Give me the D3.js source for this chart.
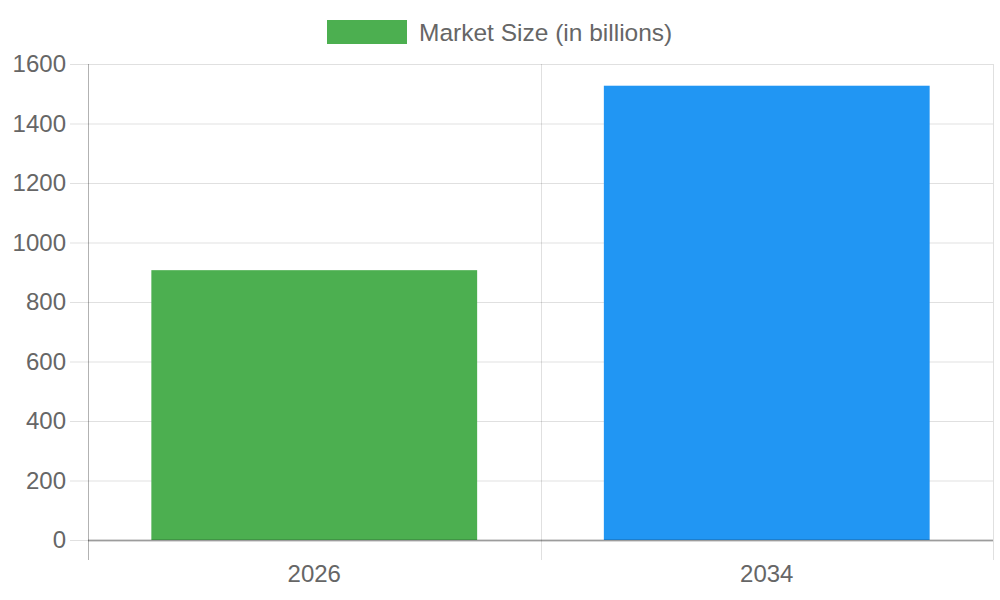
<!DOCTYPE html>
<html>
<head>
<meta charset="utf-8">
<script src="https://cdn.jsdelivr.net/npm/d3@7"></script>
<style>
  body { margin: 0; background: #fff; }
  text { font-family: "Liberation Sans", Arial, sans-serif; fill: #666; }
</style>
</head>
<body>
<div id="chart"></div>
<script>
const years = ["2026", "2034"]
const marketSize = [907, 1527]
const barColors = ["#4caf50", "#2196f3"]
const yTicks = [0, 200, 400, 600, 800, 1000, 1200, 1400, 1600]
const seriesLabel = "Market Size (in billions)"

function draw() {
  const dimensions = {
    width: 1000,
    height: 600,
    margin: { top: 64, left: 88, bottom: 60, right: 7 },
  }
  dimensions.ctrWidth = dimensions.width - dimensions.margin.left - dimensions.margin.right
  dimensions.ctrHeight = dimensions.height - dimensions.margin.top - dimensions.margin.bottom

  const xScale = d3.scaleBand()
    .domain(years)
    .range([0, dimensions.ctrWidth])

  const yScale = d3.scaleLinear()
    .domain([0, 1600])
    .range([dimensions.ctrHeight, 0])

  const svg = d3.select("#chart")
    .append("svg")
    .attr("width", dimensions.width)
    .attr("height", dimensions.height)

  const ctr = svg.append("g")
    .attr("transform", `translate(${dimensions.margin.left}, ${dimensions.margin.top})`)

  // horizontal grid + tick marks
  ctr.append("g")
    .selectAll("line")
    .data(yTicks)
    .join("line")
    .attr("x1", -18)
    .attr("x2", dimensions.ctrWidth)
    .attr("y1", d => yScale(d) + 0.5)
    .attr("y2", d => yScale(d) + 0.5)
    .attr("stroke", "rgba(0,0,0,0.12)")

  // vertical grid lines at category boundaries
  const xEdges = [0, ...years.slice(1).map(d => xScale(d)), dimensions.ctrWidth]
  ctr.append("g")
    .selectAll("line")
    .data(xEdges)
    .join("line")
    .attr("x1", d => Math.round(d) + 0.5)
    .attr("x2", d => Math.round(d) + 0.5)
    .attr("y1", 0)
    .attr("y2", dimensions.ctrHeight + 20)
    .attr("stroke", (d, i) => i === 0 ? "rgba(0,0,0,0.3)" : "rgba(0,0,0,0.12)")

  // y tick labels
  ctr.append("g")
    .selectAll("text")
    .data(yTicks)
    .join("text")
    .attr("x", -22)
    .attr("y", d => yScale(d))
    .attr("dy", "0.35em")
    .attr("text-anchor", "end")
    .style("font-size", "24px")
    .text(d => d)

  // bars
  const barWidth = xScale.bandwidth() * 0.72
  ctr.append("g")
    .selectAll("rect")
    .data(marketSize)
    .join("rect")
    .attr("x", (d, i) => xScale(years[i]) + (xScale.bandwidth() - barWidth) / 2)
    .attr("y", d => yScale(d))
    .attr("width", barWidth)
    .attr("height", d => dimensions.ctrHeight - yScale(d))
    .attr("fill", (d, i) => barColors[i])

  // x axis line
  ctr.append("line")
    .attr("x1", 0)
    .attr("x2", dimensions.ctrWidth)
    .attr("y1", dimensions.ctrHeight + 0.5)
    .attr("y2", dimensions.ctrHeight + 0.5)
    .attr("stroke", "rgba(0,0,0,0.3)")
    .attr("stroke-width", 2)

  // x labels
  ctr.append("g")
    .selectAll("text")
    .data(years)
    .join("text")
    .attr("x", d => xScale(d) + xScale.bandwidth() / 2)
    .attr("y", dimensions.ctrHeight + 42)
    .attr("text-anchor", "middle")
    .style("font-size", "24px")
    .text(d => d)

  // legend
  const legend = svg.append("g")
  legend.append("rect")
    .attr("x", 327)
    .attr("y", 20)
    .attr("width", 80)
    .attr("height", 24)
    .attr("fill", barColors[0])
  legend.append("text")
    .attr("x", 419)
    .attr("y", 32)
    .attr("dy", "0.35em")
    .style("font-size", "24.5px")
    .text(seriesLabel)
}

draw()
</script>
</body>
</html>
